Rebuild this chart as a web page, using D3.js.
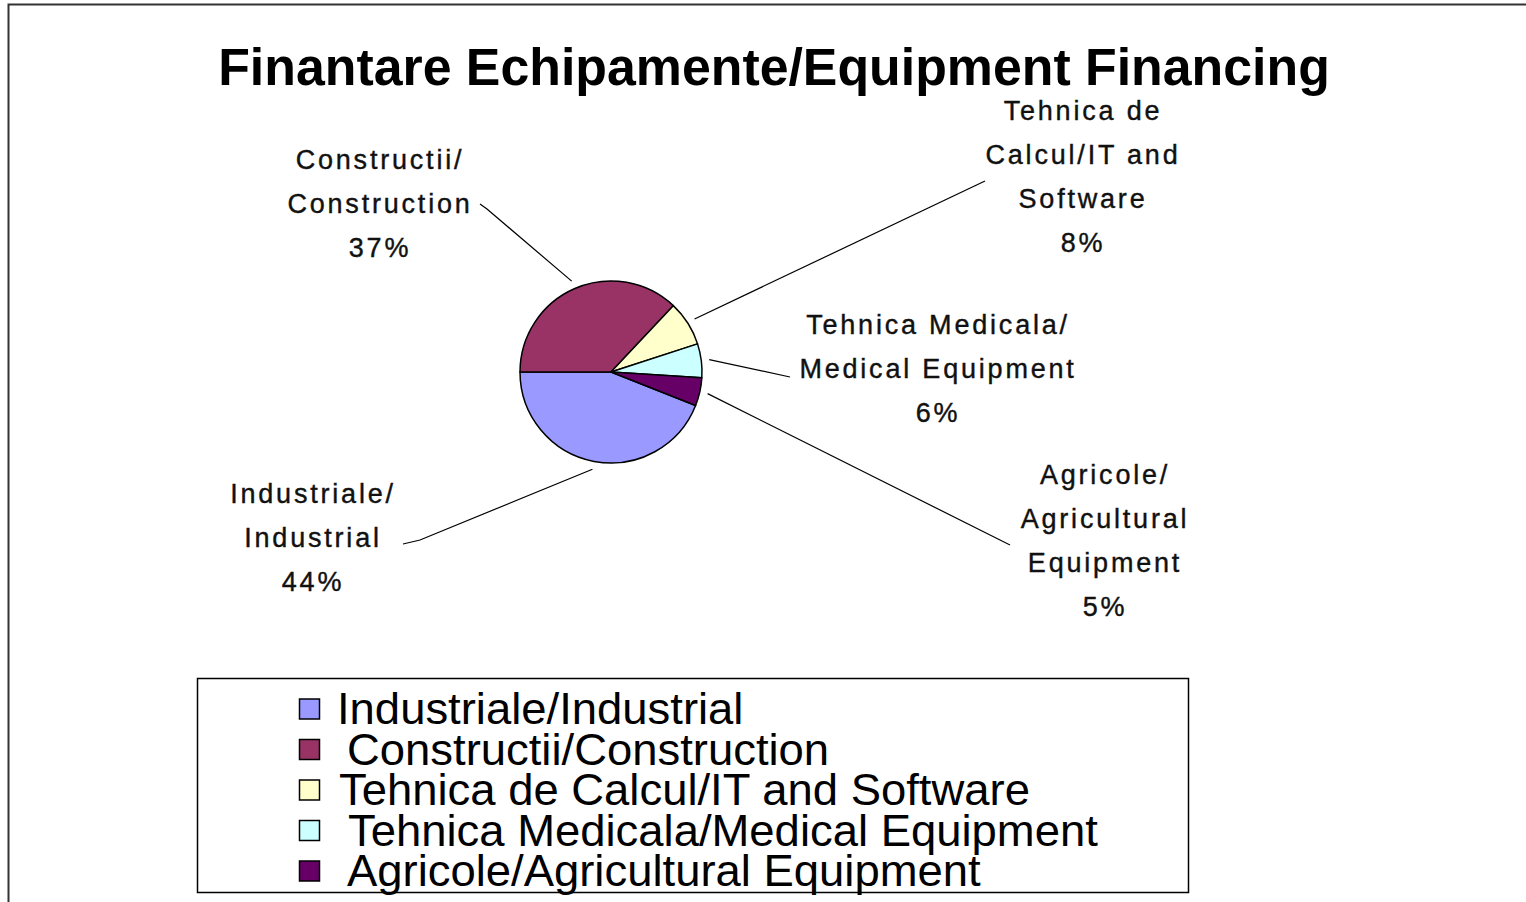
<!DOCTYPE html>
<html>
<head>
<meta charset="utf-8">
<script src="https://cdn.jsdelivr.net/npm/d3@7"></script>
<style>
  html, body { margin: 0; padding: 0; background: #fff; }
  svg { display: block; }
  text { font-family: "Liberation Sans", Arial, sans-serif; fill: #000; }
</style>
</head>
<body>
<svg id="chart" width="1526" height="902"></svg>
<script>
// ---- data ----
const titleText = "Finantare Echipamente/Equipment Financing";
const categories = [
  "Industriale/Industrial",
  "Constructii/Construction",
  "Tehnica de Calcul/IT and Software",
  "Tehnica Medicala/Medical Equipment",
  "Agricole/Agricultural Equipment"
];
const values = [44, 37, 8, 6, 5];
const labelLines = [
  ["Industriale/", "Industrial"],
  ["Constructii/", "Construction"],
  ["Tehnica de", "Calcul/IT and", "Software"],
  ["Tehnica Medicala/", "Medical Equipment"],
  ["Agricole/", "Agricultural", "Equipment"]
];
const colors = ["#9999FF", "#993366", "#FFFFCC", "#CCFFFF", "#660066"];

// ---- layout (placement of hand-positioned data labels) ----
const labelLayout = [
  { x: 313, y: 494, elbow: [420, 540], end: [403, 544] },
  { x: 380, y: 160, elbow: [487, 209], end: [480, 204] },
  { x: 1083, y: 111, elbow: [985, 181], end: [985, 181] },
  { x: 938, y: 325, elbow: [790, 377], end: [790, 377] },
  { x: 1105, y: 475, elbow: [1010, 545], end: [1010, 545] }
];
const legendIndent = [0, 10, 2, 11, 10];

const svg = d3.select("#chart");
const W = 1526, H = 902;

// outer frame
svg.append("path")
  .attr("d", `M8.5,${H} L8.5,4.5 L${W},4.5`)
  .attr("fill", "none").attr("stroke", "#333").attr("stroke-width", 2);

// title
const title = svg.append("text")
  .attr("x", 774).attr("y", 85)
  .attr("text-anchor", "middle")
  .attr("font-size", 52).attr("font-weight", "bold")
  .text(titleText);
{
  const w = title.node().getComputedTextLength();
  const target = 1112;
  title.attr("transform", `translate(774,0) scale(${target / w},1) translate(-774,0)`);
}

// pie
const cx = 611, cy = 372, r = 91;
const total = d3.sum(values);
const start = 1.5 * Math.PI - values[0] / total * 2 * Math.PI;
const pie = d3.pie().sort(null).value(d => d)
  .startAngle(start).endAngle(start + 2 * Math.PI);
const arcs = pie(values);
const arc = d3.arc().innerRadius(0).outerRadius(r);
const g = svg.append("g").attr("transform", `translate(${cx},${cy})`);
g.selectAll("path").data(arcs).join("path")
  .attr("d", arc)
  .attr("fill", (d, i) => colors[i])
  .attr("stroke", "#000").attr("stroke-width", 1.5).attr("stroke-linejoin", "round");

// leader lines and labels
const fmt = d3.format(".0%");
arcs.forEach((a, i) => {
  const mid = (a.startAngle + a.endAngle) / 2;
  const rr = r + 8;
  const sx = cx + rr * Math.sin(mid), sy = cy - rr * Math.cos(mid);
  const L = labelLayout[i];
  svg.append("path")
    .attr("d", `M${sx},${sy} L${L.elbow[0]},${L.elbow[1]} L${L.end[0]},${L.end[1]}`)
    .attr("fill", "none").attr("stroke", "#000").attr("stroke-width", 1.2);
  const lines = labelLines[i].concat([fmt(values[i] / total)]);
  const t = svg.append("text")
    .attr("text-anchor", "middle")
    .attr("font-size", 27)
    .attr("letter-spacing", "2.8px")
    .style("fill", "#111")
    .style("stroke", "#111").style("stroke-width", 0.4);
  lines.forEach((ln, k) => {
    t.append("tspan")
      .attr("x", L.x)
      .attr("y", L.y + k * 44)
      .attr("dominant-baseline", "central")
      .text(ln);
  });
});

// legend
svg.append("rect")
  .attr("x", 197.5).attr("y", 678.5).attr("width", 991).attr("height", 214)
  .attr("fill", "#fff").attr("stroke", "#000").attr("stroke-width", 1.5);
const legend = svg.append("g");
const rowY = d3.scalePoint().domain(d3.range(categories.length)).range([709, 871]);
categories.forEach((c, i) => {
  const y = rowY(i);
  legend.append("rect")
    .attr("x", 299.5).attr("y", y - 10).attr("width", 20).attr("height", 20)
    .attr("fill", colors[i]).attr("stroke", "#000").attr("stroke-width", 1.5);
  legend.append("text")
    .attr("class", "legtxt")
    .attr("x", 337 + legendIndent[i]).attr("y", y)
    .attr("dominant-baseline", "central")
    .attr("font-size", 45)
    .text(c);
});
{
  const texts = legend.selectAll("text.legtxt").nodes();
  const maxW = d3.max(texts, n => n.getComputedTextLength());
  const k = 750 / maxW;
  legend.selectAll("text.legtxt").each(function (d, i) {
    const x0 = 337 + legendIndent[i];
    d3.select(this).attr("transform", `translate(${x0},0) scale(${k},1) translate(${-x0},0)`);
  });
}
</script>
</body>
</html>
